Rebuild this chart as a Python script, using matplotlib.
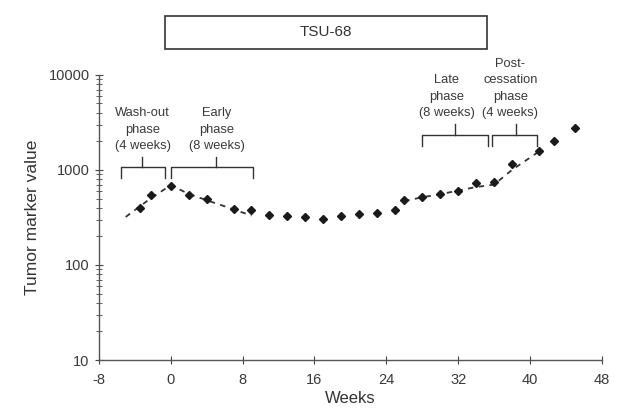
import matplotlib
matplotlib.use("Agg")
from matplotlib import pyplot as plt
import matplotlib.patches as patches

plt.rcParams['font.family'] = ['Liberation Sans', 'DejaVu Sans']
plt.rcParams['axes.unicode_minus'] = False

# measured points (weeks, tumor marker value)
weeks = [-3.4, -2.2, 0, 2, 4, 7, 9, 11, 13, 15, 17, 19, 21, 23, 25,
         26, 28, 30, 32, 34, 36, 38, 41, 42.7, 45]
marker = [400, 545, 685, 545, 495, 385, 380, 333, 328, 318, 307, 328, 345, 350, 379,
          483, 524, 563, 597, 725, 740, 1160, 1585, 2020, 2750]

# dashed trend lines
trend1_x = [-5, -2.5, 0, 2, 4, 7, 9]
trend1_y = [320, 480, 690, 560, 480, 385, 330]
trend2_x = [26, 28, 30, 32, 34, 36, 38, 41]
trend2_y = [470, 515, 555, 605, 660, 700, 1000, 1560]

# phase brackets: (left, right, centre, label x, label)
phases = [
    (-5.5, -0.6, -3.2, -3.1, "Wash-out\nphase\n(4 weeks)"),
    (0.0, 9.2, 5.1, 5.1, "Early\nphase\n(8 weeks)"),
    (28.0, 35.3, 31.6, 30.7, "Late\nphase\n(8 weeks)"),
    (35.8, 40.8, 38.4, 37.8, "Post-\ncessation\nphase\n(4 weeks)"),
]
bracket_y = [1070, 2300]
leg_y = [825, 1800]
tip_y = [1370, 3050]

fig = plt.figure(figsize=(6.25, 4.11), dpi=100)
ax = fig.add_axes([0.158, 0.124, 0.805, 0.694])

ax.plot(trend1_x, trend1_y, linestyle=(0, (3, 3)), color='#333333', lw=1.3)
ax.plot(trend2_x, trend2_y, linestyle=(0, (3, 3)), color='#333333', lw=1.3)
ax.plot(weeks, marker, linestyle='none', marker='D', markersize=4,
        color='#1a1a1a')

ax.set_yscale('log')
ax.set_xlim(-8, 48)
ax.set_ylim(10, 10000)
ax.set_xticks(range(-8, 49, 8))
ax.set_yticks([10, 100, 1000, 10000])
ax.set_yticklabels(['10', '100', '1000', '10000'])

for i, (l, r, c, tx, txt) in enumerate(phases):
    k = 0 if i < 2 else 1
    ax.plot([l, l, r, r], [leg_y[k], bracket_y[k], bracket_y[k], leg_y[k]],
            color='#333333', lw=1.0)
    ax.plot([c, c], [bracket_y[k], tip_y[k]], color='#333333', lw=1.0)
    ax.text(tx, tip_y[k] * 1.12, txt, ha='center', va='bottom', fontsize=9.3,
            color='#3a3a3a', linespacing=1.5)

for s in ['top', 'right']:
    ax.spines[s].set_visible(False)
for s in ['left', 'bottom']:
    ax.spines[s].set_color('#555555')
    ax.spines[s].set_linewidth(1.0)

ax.tick_params(axis='both', which='major', direction='inout', length=6,
               color='#444444', labelsize=10.5, labelcolor='#3a3a3a')
ax.tick_params(axis='x', which='major', pad=6)
ax.tick_params(axis='y', which='minor', direction='inout', length=4,
               color='#444444')
ax.set_xlabel("Weeks", fontsize=12, color='#333333', labelpad=3)
ax.set_ylabel("Tumor marker value", fontsize=12.5, color='#333333', labelpad=6)

# title box
box = patches.Rectangle((0.264, 0.881), 0.515, 0.080, transform=fig.transFigure,
                        fill=False, edgecolor='#333333', lw=1.2)
fig.patches.append(box)
fig.text(0.5215, 0.921, "TSU-68", ha='center', va='center', fontsize=11,
         color='#333333')

fig.savefig("out.png", dpi=100)
